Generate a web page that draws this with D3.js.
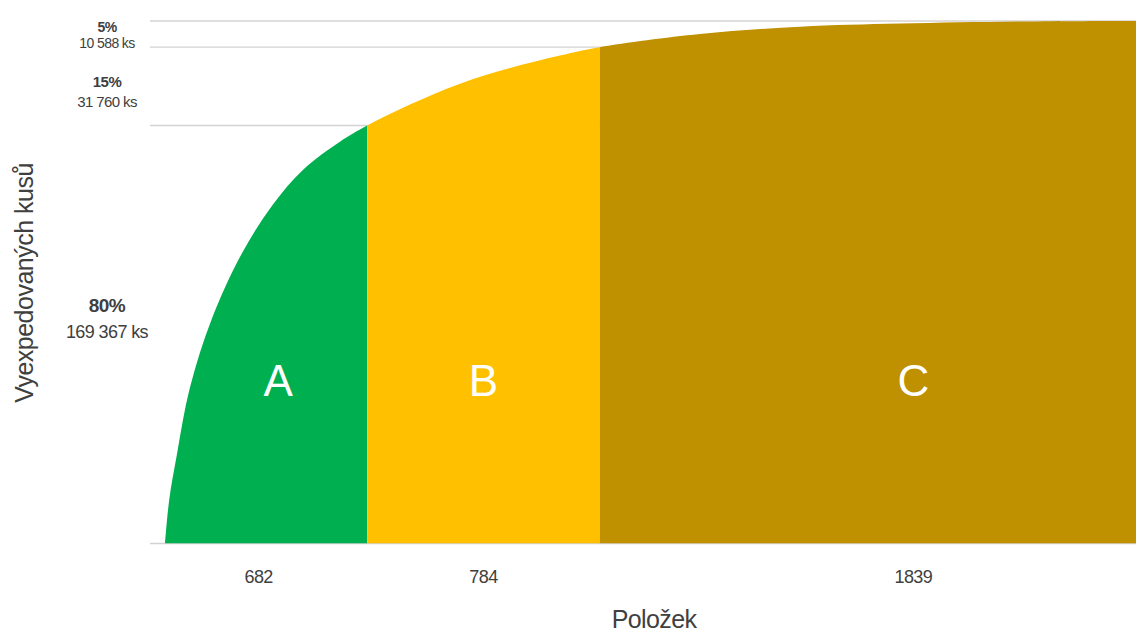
<!DOCTYPE html>
<html>
<head>
<meta charset="utf-8">
<script src="https://cdn.jsdelivr.net/npm/d3@7"></script>
<style>
  html, body { margin: 0; padding: 0; background: #fff; }
  svg { display: block; font-family: "Liberation Sans", Arial, sans-serif; }
</style>
</head>
<body>
<div class="abc"></div>
<script>
// cumulative curve: items (sorted by volume) vs share of shipped pieces (%)
var items = [0, 14, 40, 84, 158, 260, 364, 465, 590, 682, 826, 995, 1164, 1332, 1466, 1804, 2142, 2479, 2894, 3305];
var cumShare = [0, 8.3, 17.0, 29.8, 43.0, 55.6, 64.9, 71.5, 76.9, 80, 84.0, 88.0, 91.0, 93.4, 95, 97.5, 98.9, 99.5, 99.9, 100];

// ABC classes
var classes = ["A", "B", "C"];
var classCounts = [682, 784, 1839];
var classShares = [80, 15, 5];
var classPieces = ["169 367 ks", "31 760 ks", "10 588 ks"];
var classColors = ["#00b050", "#ffc000", "#bf9000"];

var width = 1136, height = 633;
var plotLeft = 150, plotBottom = 543.5, plotTop = 21, farRight = 1227;
var textColor = "#404040";

var svg = d3.select(".abc").append("svg")
    .attr("width", width)
    .attr("height", height);

var x = d3.scaleLinear().domain([0, d3.sum(classCounts)]).range([165, 1145]);
var y = d3.scaleLinear().domain([0, 100]).range([plotBottom, plotTop]);

var data = items.map(function (n, i) { return { n: n, v: cumShare[i] }; });

// class boundaries (item counts, cumulative)
var bounds = [0];
classCounts.forEach(function (c, i) { bounds.push(bounds[i] + c); });
var shareBounds = [0];
classShares.forEach(function (s, i) { shareBounds.push(shareBounds[i] + s); });

/* ------- GRID -------*/
svg.append("g").selectAll("line")
    .data(shareBounds)
    .enter().append("line")
    .attr("x1", plotLeft).attr("x2", width)
    .attr("y1", function (d) { return y(d); })
    .attr("y2", function (d) { return y(d); })
    .attr("stroke", "#d4d2d2")
    .attr("stroke-width", 1.3);

/* ------- AREAS -------*/
var area = d3.area()
    .x(function (d) { return x(d.n); })
    .y0(y(0))
    .y1(function (d) { return Math.max(y(d.v), plotTop); })
    .curve(d3.curveCatmullRom.alpha(0.5));

var defs = svg.append("defs");
classes.forEach(function (c, i) {
    var x0 = i === 0 ? 0 : x(bounds[i]);
    var x1 = i === classes.length - 1 ? width : x(bounds[i + 1]);
    defs.append("clipPath").attr("id", "clip" + c)
        .append("rect")
        .attr("x", x0).attr("y", plotTop)
        .attr("width", x1 - x0).attr("height", plotBottom - plotTop);
    svg.append("path")
        .datum(data)
        .attr("clip-path", "url(#clip" + c + ")")
        .attr("fill", classColors[i])
        .attr("d", area);
});

/* ------- CLASS LETTERS -------*/
var letterY = 396;
var curveAt = d3.scaleLinear().domain(cumShare).range(items);
classes.forEach(function (c, i) {
    var x0 = i === 0 ? x(curveAt(y.invert(letterY - 5))) : x(bounds[i]);
    var x1 = i === classes.length - 1 ? farRight : x(bounds[i + 1]);
    svg.append("text")
        .attr("x", (x0 + x1) / 2)
        .attr("y", letterY)
        .attr("text-anchor", "middle")
        .attr("fill", "#fff")
        .style("font-size", "44px")
        .text(c);
});

/* ------- COUNT LABELS (x) -------*/
classes.forEach(function (c, i) {
    var x0 = i === 0 ? plotLeft : x(bounds[i]);
    var x1 = i === classes.length - 1 ? farRight : x(bounds[i + 1]);
    svg.append("text")
        .attr("x", (x0 + x1) / 2)
        .attr("y", 583)
        .attr("text-anchor", "middle")
        .attr("fill", textColor)
        .style("font-size", "18px")
        .style("letter-spacing", "-0.6px")
        .text(classCounts[i]);
});

/* ------- SHARE LABELS (y) -------*/
var labelStyle = [
    { pct: 19, ks: 18, y1: 312, y2: 338 },
    { pct: 15, ks: 15, y1: 87, y2: 106.5 },
    { pct: 14, ks: 14, y1: 31.5, y2: 48 }
];
classes.forEach(function (c, i) {
    var s = labelStyle[i];
    svg.append("text")
        .attr("x", 107).attr("y", s.y1)
        .attr("text-anchor", "middle")
        .attr("fill", textColor)
        .style("font-size", s.pct + "px")
        .style("font-weight", "bold")
        .style("letter-spacing", "-0.5px")
        .text(classShares[i] + "%");
    svg.append("text")
        .attr("x", 107).attr("y", s.y2)
        .attr("text-anchor", "middle")
        .attr("fill", textColor)
        .style("font-size", s.ks + "px")
        .style("letter-spacing", "-0.6px")
        .text(classPieces[i]);
});

/* ------- AXIS TITLES -------*/
svg.append("text")
    .attr("transform", "translate(33,283) rotate(-90)")
    .attr("text-anchor", "middle")
    .attr("fill", textColor)
    .style("font-size", "25px")
    .style("letter-spacing", "-0.5px")
    .text("Vyexpedovaných kusů");

svg.append("text")
    .attr("x", 654).attr("y", 628)
    .attr("text-anchor", "middle")
    .attr("fill", textColor)
    .style("font-size", "25px")
    .style("letter-spacing", "-0.6px")
    .text("Položek");
</script>
</body>
</html>
